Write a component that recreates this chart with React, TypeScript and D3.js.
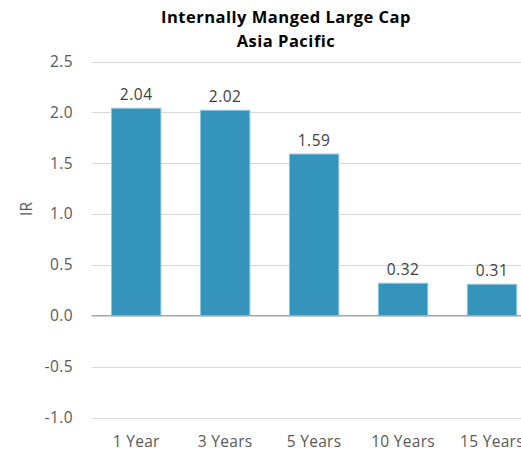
import React, { useEffect, useRef } from 'react';
import * as d3 from 'd3';

const categories = ['1 Year', '3 Years', '5 Years', '10 Years', '15 Years'];
const values = [2.04, 2.02, 1.59, 0.32, 0.31];
const yTicks = [-1.0, -0.5, 0.0, 0.5, 1.0, 1.5, 2.0, 2.5];
const titleLines = ['Internally Manged Large Cap', 'Asia Pacific'];

const App = () => {
  const svgRef = useRef<SVGSVGElement>(null);

  useEffect(() => {
    const svg = d3.select(svgRef.current);
    svg.selectAll('*').remove();

    const width = 521;
    const font = '"Open Sans", Lato, sans-serif';
    // plain hyphen for negatives, like the original
    const fmt1 = (d: number) => d.toFixed(1);
    const fmt2 = (d: number) => d.toFixed(2);

    // plot area runs past the right edge, as in the original
    const x = d3.scaleBand<string>()
      .domain(categories)
      .range([91.7, 536.5])
      .paddingInner(0.445)
      .paddingOuter(0.2225);

    const y = d3.scaleLinear()
      .domain([-1, 2.5])
      .range([417.5, 61.5]);

    // title
    svg.append('g')
      .selectAll('text')
      .data(titleLines)
      .enter()
      .append('text')
      .attr('x', 286)
      .attr('y', (d, i) => 23 + i * 23.5)
      .attr('text-anchor', 'middle')
      .attr('font-family', font)
      .attr('font-weight', 'bold')
      .attr('font-size', '16.5px')
      .attr('letter-spacing', '0.5px')
      .attr('fill', '#000')
      .text(d => d);

    // grid
    svg.append('g')
      .selectAll('line')
      .data(yTicks.filter(d => d !== 0))
      .enter()
      .append('line')
      .attr('x1', 91.7)
      .attr('x2', width)
      .attr('y1', d => Math.round(y(d)) + 0.5)
      .attr('y2', d => Math.round(y(d)) + 0.5)
      .attr('stroke', '#d9d9d9')
      .attr('stroke-width', 1);

    // y tick labels
    svg.append('g')
      .selectAll('text')
      .data(yTicks)
      .enter()
      .append('text')
      .attr('x', 73)
      .attr('y', d => y(d))
      .attr('dy', '0.35em')
      .attr('text-anchor', 'end')
      .attr('font-family', font)
      .attr('font-size', '15.5px')
      .attr('letter-spacing', '0.4px')
      .attr('fill', '#595959')
      .text(d => fmt1(d));

    // axis title
    svg.append('text')
      .attr('transform', `translate(32,${y(1.05)}) rotate(-90)`)
      .attr('text-anchor', 'middle')
      .attr('font-family', font)
      .attr('font-size', '15.5px')
      .attr('fill', '#595959')
      .text('IR');

    // bars
    svg.append('g')
      .selectAll('rect')
      .data(values)
      .enter()
      .append('rect')
      .attr('x', (d, i) => x(categories[i])!)
      .attr('y', d => y(d))
      .attr('width', x.bandwidth())
      .attr('height', d => y(0) - y(d))
      .attr('fill', '#3594bc')
      .attr('stroke', '#8cc6e0')
      .attr('stroke-width', 1);

    // zero line
    svg.append('line')
      .attr('x1', 91.7)
      .attr('x2', width)
      .attr('y1', y(0))
      .attr('y2', y(0))
      .attr('stroke', '#a6a6a6')
      .attr('stroke-width', 1.5);

    // value labels
    svg.append('g')
      .selectAll('text')
      .data(values)
      .enter()
      .append('text')
      .attr('x', (d, i) => x(categories[i])! + x.bandwidth() / 2)
      .attr('y', d => y(d) - 8)
      .attr('text-anchor', 'middle')
      .attr('font-family', font)
      .attr('font-size', '15.5px')
      .attr('letter-spacing', '0.5px')
      .attr('fill', '#404040')
      .text(d => fmt2(d));

    // category labels
    svg.append('g')
      .selectAll('text')
      .data(categories)
      .enter()
      .append('text')
      .attr('x', d => x(d)! + x.bandwidth() / 2)
      .attr('y', 447)
      .attr('text-anchor', 'middle')
      .attr('font-family', font)
      .attr('font-size', '15.5px')
      .attr('letter-spacing', '0.3px')
      .attr('fill', '#595959')
      .text(d => d);
  }, []);

  return (
    <svg
      ref={svgRef}
      width={521}
      height={451}
      style={{ position: 'absolute', left: 0, top: 0, background: '#fff' }}
    />
  );
};

export default App;
